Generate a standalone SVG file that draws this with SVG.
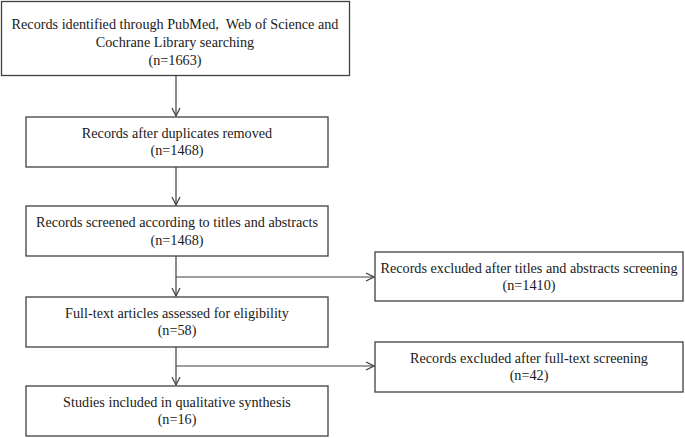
<svg xmlns="http://www.w3.org/2000/svg" width="685" height="438" viewBox="0 0 685 438">
<style>
.box{fill:#fff;stroke:#404040;stroke-width:1.3}
text{fill:#1a1a1a;text-anchor:middle}
.c{fill:none;stroke:#404040;stroke-width:1.2}
</style>
<defs>
<marker id="ah" viewBox="0 0 10 10" refX="9" refY="5" markerWidth="10" markerHeight="10" markerUnits="userSpaceOnUse" orient="auto">
<path d="M1,1 L9,5 L1,9" fill="none" stroke="#404040" stroke-width="1.2"/>
</marker>
</defs>
<rect width="685" height="438" fill="#fff"/>
<g id="connectors">
<line class="c" x1="176" y1="76" x2="176" y2="116" marker-end="url(#ah)"/>
<line class="c" x1="176" y1="167" x2="176" y2="205" marker-end="url(#ah)"/>
<line class="c" x1="176" y1="256" x2="176" y2="296" marker-end="url(#ah)"/>
<line class="c" x1="176" y1="277" x2="374" y2="277" marker-end="url(#ah)"/>
<line class="c" x1="176" y1="347" x2="176" y2="385" marker-end="url(#ah)"/>
<line class="c" x1="176" y1="366" x2="374" y2="366" marker-end="url(#ah)"/>
</g>
<g font-family="Liberation Serif, Times New Roman, serif" font-size="14.2">
<g id="n1">
<rect class="box" x="1.5" y="1.5" width="348" height="74"/>
<text x="175" y="29" xml:space="preserve">Records identified through PubMed,  Web of Science and</text>
<text x="175" y="47">Cochrane Library searching</text>
<text x="175" y="65">(n=1663)</text>
</g>
<g id="n2">
<rect class="box" x="26" y="117" width="302" height="50"/>
<text x="177" y="138">Records after duplicates removed</text>
<text x="177" y="155">(n=1468)</text>
</g>
<g id="n3">
<rect class="box" x="26" y="206" width="302" height="50"/>
<text x="177" y="227">Records screened according to titles and abstracts</text>
<text x="177" y="245">(n=1468)</text>
</g>
<g id="n4">
<rect class="box" x="26" y="297" width="302" height="50"/>
<text x="177" y="318">Full-text articles assessed for eligibility</text>
<text x="177" y="335">(n=58)</text>
</g>
<g id="n5">
<rect class="box" x="26" y="386" width="302" height="50"/>
<text x="177" y="407">Studies included in qualitative synthesis</text>
<text x="177" y="424">(n=16)</text>
</g>
<g id="n6">
<rect class="box" x="375" y="252" width="308" height="49"/>
<text x="529" y="273">Records excluded after titles and abstracts screening</text>
<text x="529" y="290">(n=1410)</text>
</g>
<g id="n7">
<rect class="box" x="375" y="342" width="308" height="50"/>
<text x="529" y="363">Records excluded after full-text screening</text>
<text x="529" y="380">(n=42)</text>
</g>
</g>
</svg>
